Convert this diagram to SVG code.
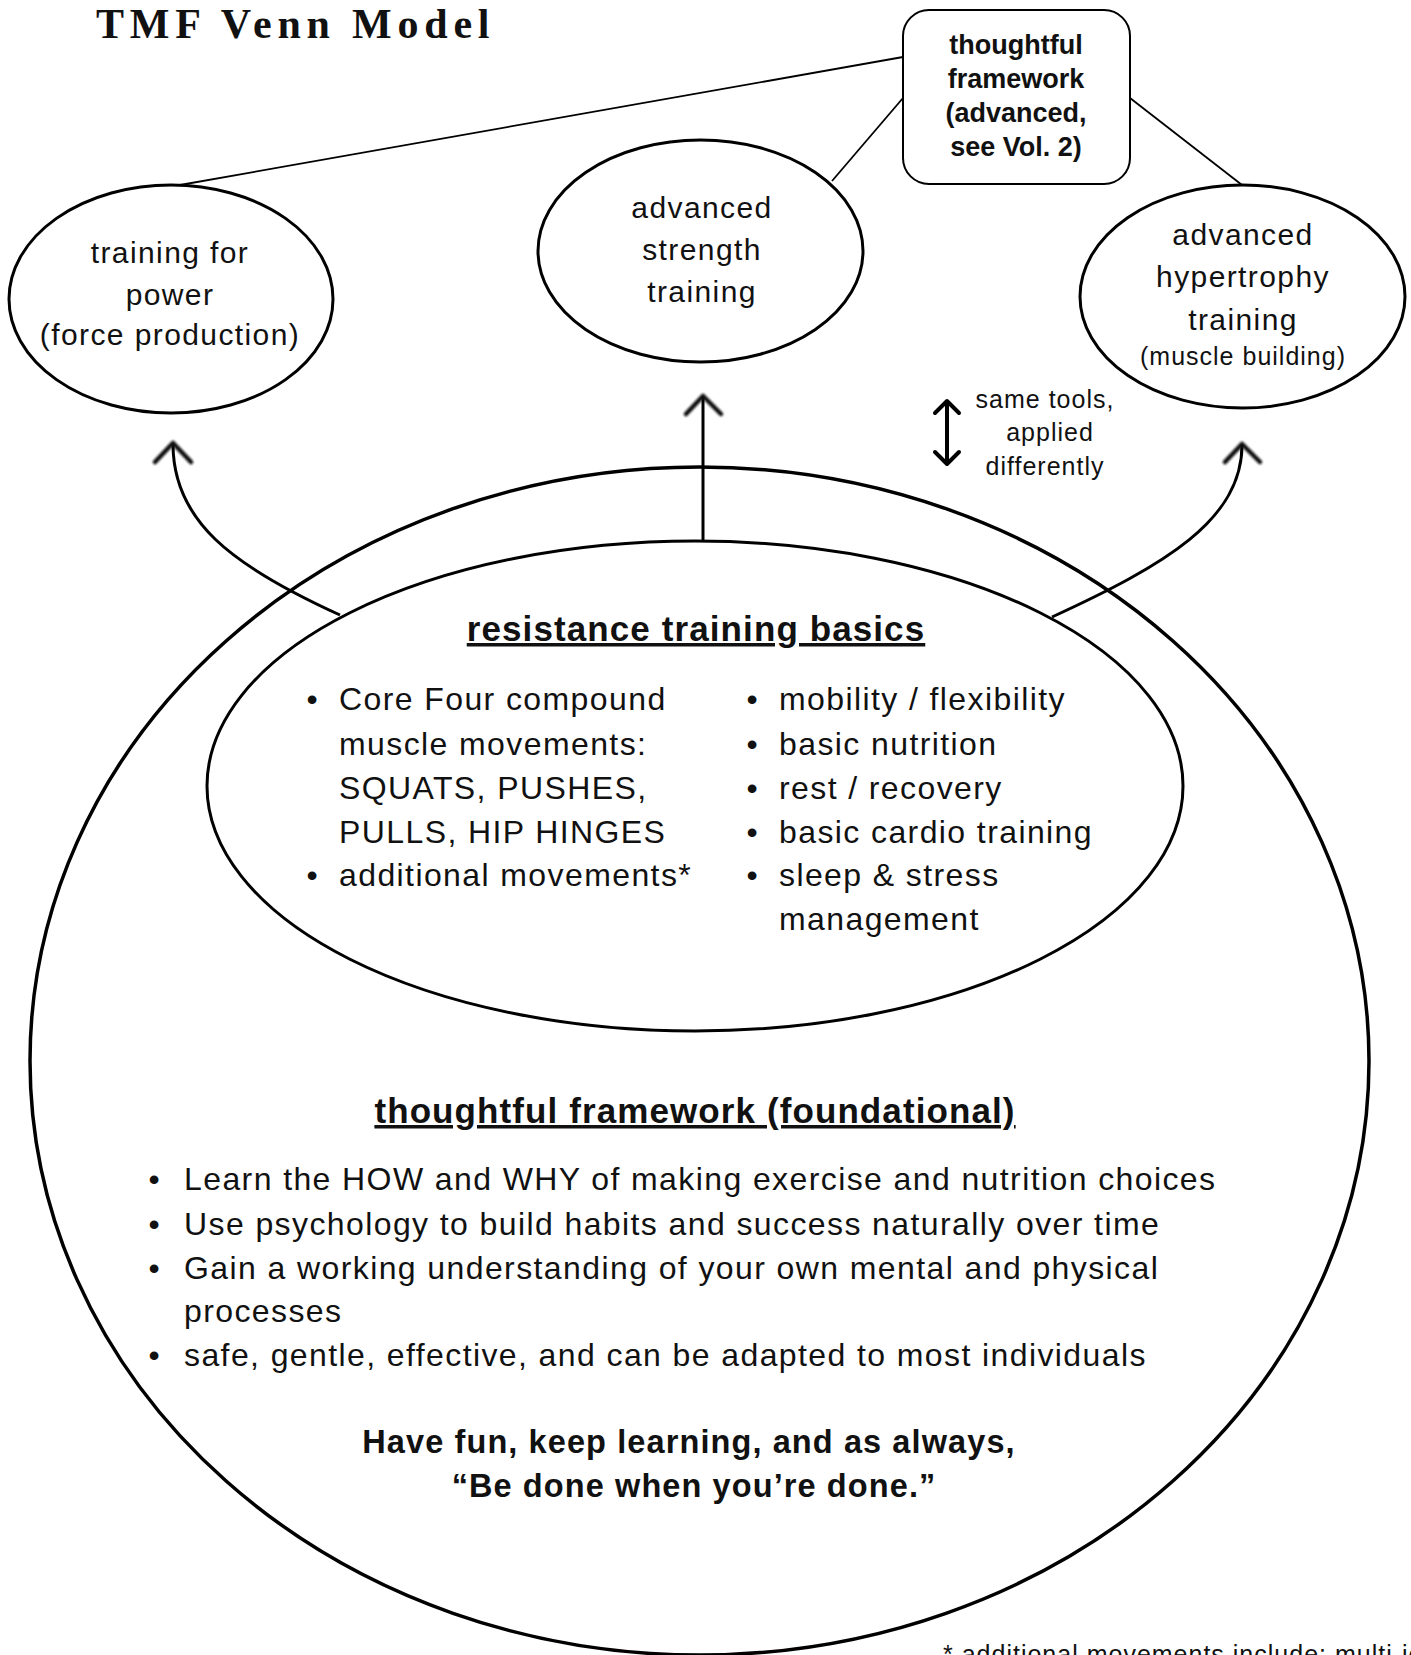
<svg xmlns="http://www.w3.org/2000/svg" width="1411" height="1655" viewBox="0 0 1411 1655">
<defs>
<style>
.title{font-family:"Liberation Serif","Times New Roman",serif;font-weight:bold;font-size:42px;letter-spacing:5.8px;fill:#111}
.sans{font-family:"Liberation Sans",Arial,sans-serif;fill:#111}
.node{font-size:30px;letter-spacing:1.4px;text-anchor:middle}
.small{font-size:25px;letter-spacing:1px}
.mid{text-anchor:middle}
.box{font-size:27px;font-weight:bold;text-anchor:middle}
.head{font-size:35px;font-weight:bold;letter-spacing:1.1px;text-anchor:middle;text-decoration:underline}
.li{font-size:32px;letter-spacing:1.4px}
.bul{font-size:32px;text-anchor:middle}
.motto{font-size:32.5px;font-weight:bold;letter-spacing:1.1px;text-anchor:middle}
.ell{fill:none;stroke:#000;stroke-width:3}
.big{fill:none;stroke:#000;stroke-width:3.5}
.thin{fill:none;stroke:#000;stroke-width:1.8}
.rbox{fill:#fff;stroke:#000;stroke-width:2}
.arrow{fill:none;stroke:#000;stroke-width:3}
.tip{fill:none;stroke:#111;stroke-width:4.5;stroke-linecap:round;stroke-linejoin:round;filter:url(#soft)}
.dbl{fill:none;stroke:#000;stroke-width:4;stroke-linecap:round;stroke-linejoin:round}
</style>
<filter id="soft" x="-50%" y="-50%" width="200%" height="200%"><feGaussianBlur stdDeviation="0.9"/></filter>
</defs>
<rect width="1411" height="1655" fill="#fff"/>

<g id="title">
<text class="title" x="96" y="38">TMF Venn Model</text>
</g>

<g id="connectors">
<line class="thin" x1="903" y1="57" x2="180" y2="185"/>
<line class="thin" x1="903" y1="98" x2="832" y2="181"/>
<line class="thin" x1="1130" y1="98" x2="1242" y2="185"/>
<path class="arrow" d="M340 615 C230 565 173 520 173 444"/>
<path class="tip" d="M155 462 L173 443 L191 462"/>
<line class="arrow" x1="703" y1="397" x2="703" y2="541"/>
<path class="tip" d="M686 414 L703 396 L721 414"/>
<path class="arrow" d="M1052 617 C1165 565 1242 520 1242 445"/>
<path class="tip" d="M1225 462 L1242 444 L1260 462"/>
</g>

<g id="node-foundation">
<ellipse class="big" cx="699.5" cy="1061" rx="669.5" ry="594"/>
<text class="sans head" x="695" y="1123">thoughtful framework (foundational)</text>
<text class="sans bul" x="154" y="1190">•</text>
<text class="sans li" x="184" y="1190">Learn the HOW and WHY of making exercise and nutrition choices</text>
<text class="sans bul" x="154" y="1235">•</text>
<text class="sans li" x="184" y="1235">Use psychology to build habits and success naturally over time</text>
<text class="sans bul" x="154" y="1279">•</text>
<text class="sans li" x="184" y="1279">Gain a working understanding of your own mental and physical</text>
<text class="sans li" x="184" y="1322">processes</text>
<text class="sans bul" x="154" y="1366">•</text>
<text class="sans li" x="184" y="1366">safe, gentle, effective, and can be adapted to most individuals</text>
<text class="sans motto" x="689" y="1453">Have fun, keep learning, and as always,</text>
<text class="sans motto" x="694" y="1497">“Be done when you’re done.”</text>
</g>

<g id="node-basics">
<ellipse class="ell" cx="695" cy="786" rx="488" ry="245"/>
<text class="sans head" x="696" y="641">resistance training basics</text>
<text class="sans bul" x="312" y="710">•</text>
<text class="sans li" x="339" y="710">Core Four compound</text>
<text class="sans li" x="339" y="755">muscle movements:</text>
<text class="sans li" x="339" y="799">SQUATS, PUSHES,</text>
<text class="sans li" x="339" y="843">PULLS, HIP HINGES</text>
<text class="sans bul" x="312" y="886">•</text>
<text class="sans li" x="339" y="886">additional movements*</text>
<text class="sans bul" x="752" y="710">•</text>
<text class="sans li" x="779" y="710">mobility / flexibility</text>
<text class="sans bul" x="752" y="755">•</text>
<text class="sans li" x="779" y="755">basic nutrition</text>
<text class="sans bul" x="752" y="799">•</text>
<text class="sans li" x="779" y="799">rest / recovery</text>
<text class="sans bul" x="752" y="843">•</text>
<text class="sans li" x="779" y="843">basic cardio training</text>
<text class="sans bul" x="752" y="886">•</text>
<text class="sans li" x="779" y="886">sleep &amp; stress</text>
<text class="sans li" x="779" y="930">management</text>
</g>

<g id="node-power">
<ellipse class="ell" cx="171" cy="299" rx="162" ry="114"/>
<text class="sans node" x="170" y="263">training for</text>
<text class="sans node" x="170" y="305">power</text>
<text class="sans node" x="170" y="345">(force production)</text>
</g>

<g id="node-strength">
<ellipse class="ell" cx="700.5" cy="251" rx="162.5" ry="111"/>
<text class="sans node" x="702" y="218">advanced</text>
<text class="sans node" x="702" y="260">strength</text>
<text class="sans node" x="702" y="302">training</text>
</g>

<g id="node-hypertrophy">
<ellipse class="ell" cx="1242.5" cy="296.5" rx="162.5" ry="111.5"/>
<text class="sans node" x="1243" y="245">advanced</text>
<text class="sans node" x="1243" y="287">hypertrophy</text>
<text class="sans node" x="1243" y="330">training</text>
<text class="sans small mid" x="1243" y="365">(muscle building)</text>
</g>

<g id="box-advanced">
<rect class="rbox" x="903" y="10" width="227" height="174" rx="26" ry="26"/>
<text class="sans box" x="1016" y="54">thoughtful</text>
<text class="sans box" x="1016" y="88">framework</text>
<text class="sans box" x="1016" y="122">(advanced,</text>
<text class="sans box" x="1016" y="156">see Vol. 2)</text>
</g>

<g id="note-same-tools">
<line class="dbl" x1="947" y1="402" x2="947" y2="463"/>
<path class="dbl" d="M935 413 L947 401 L959 413"/>
<path class="dbl" d="M935 452 L947 464 L959 452"/>
<text class="sans small mid" x="1045" y="408">same tools,</text>
<text class="sans small mid" x="1050" y="441">applied</text>
<text class="sans small mid" x="1045" y="475">differently</text>
</g>

<g id="footnote">
<text class="sans small" x="943" y="1663">* additional movements include: multi-jo</text>
</g>
</svg>
